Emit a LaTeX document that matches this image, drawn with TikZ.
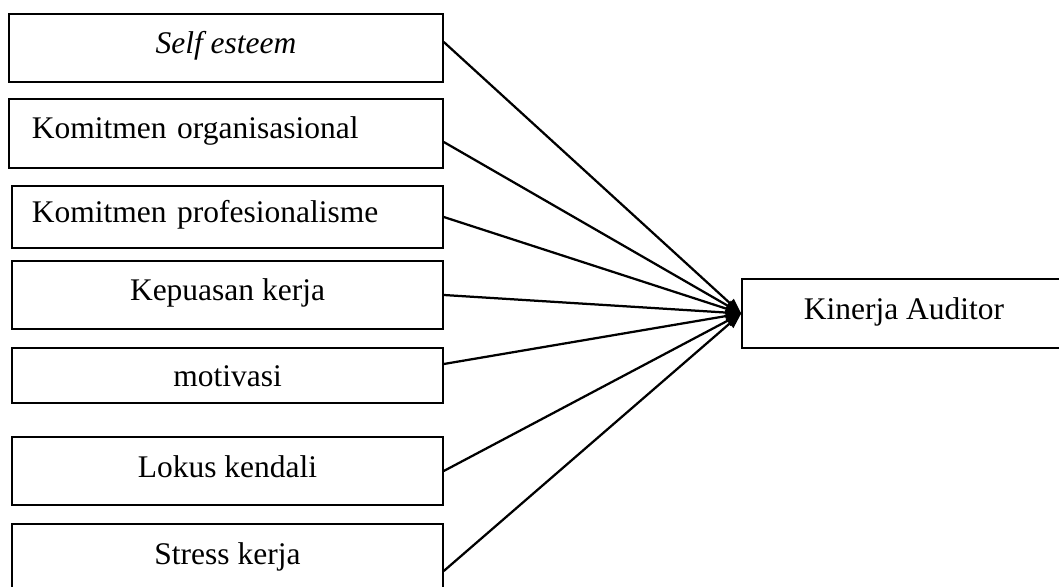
\documentclass[tikz,border=0pt]{standalone}
\usepackage{fontspec}
\setmainfont{Liberation Serif}
\usetikzlibrary{arrows.meta, positioning, calc}

\tikzset{
  varbox/.style={draw, line width=1.1pt, inner sep=0pt, minimum width=10.775cm,
    text height=1cm, text depth=0.7cm},
  leftbox/.style={varbox, align=left},
  link/.style={line width=1.6pt, -{Triangle[length=11pt, width=8pt]}}
}

\begin{document}
\begin{tikzpicture}[font=\fontsize{22.4}{27}\selectfont]
  \useasboundingbox (0,0) rectangle (26.475,-14.675);

  \node[varbox, minimum width=10.85cm] (self) at (5.65,-1.2) {\textit{Self esteem}};
  \node[leftbox, text width=9.7cm, inner xsep=0.575cm, text depth=0.725cm]
    (komorg) at (5.65,-3.3375) {Komitmen organisasional};
  \node[leftbox, text width=9.775cm, inner xsep=0.5cm, text height=0.925cm, text depth=0.625cm]
    (komprof) at (5.6875,-5.425) {Komitmen profesionalisme};
  \node[varbox] (puas) at (5.6875,-7.375) {Kepuasan kerja};
  \node[varbox, text height=0.975cm, text depth=0.4cm] (motiv) at (5.6875,-9.3875) {motivasi};
  \node[varbox] (lokus) at (5.6875,-11.775) {Lokus kendali};
  \node[varbox, text depth=0.725cm] (stress) at (5.6875,-13.9625) {Stress kerja};

  \node[varbox, minimum width=8.1cm, text height=1.025cm, text depth=0.7cm]
    (kinerja) at (22.6,-7.8375) {Kinerja Auditor};

  \draw[link] ([yshift=0.15cm]self.east) -- (kinerja.west);
  \draw[link] ([yshift=-0.2125cm]komorg.east) -- (kinerja.west);
  \draw[link] (komprof.east) -- (kinerja.west);
  \draw[link] (puas.east) -- (kinerja.west);
  \draw[link] ([yshift=0.2875cm]motiv.east) -- (kinerja.west);
  \draw[link] (lokus.east) -- (kinerja.west);
  \draw[link] ([yshift=-0.3125cm]stress.east) -- (kinerja.west);
\end{tikzpicture}
\end{document}
